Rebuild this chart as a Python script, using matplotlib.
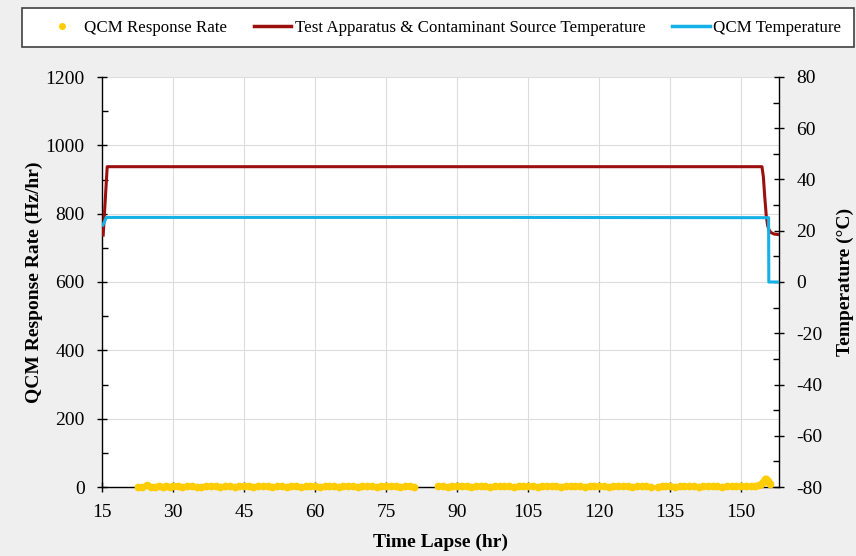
import matplotlib
matplotlib.use("Agg")
import matplotlib.pyplot as plt
from matplotlib.lines import Line2D
from matplotlib.patches import Rectangle
from matplotlib.ticker import MultipleLocator

plt.rcParams['font.family'] = ['Liberation Serif', 'DejaVu Serif']
plt.rcParams['axes.unicode_minus'] = False

# ---------------- data ----------------
rate_time = [
    22.6, 23.5, 24.4, 25.4, 26.3, 27.1, 27.9, 28.6, 29.3, 30.0,
    31, 32, 33, 34, 35, 36, 37, 38, 39, 40,
    41, 42, 43, 44, 45, 46, 47, 48, 49, 50,
    51, 52, 53, 54, 55, 56, 57, 58, 59, 60,
    61, 62, 63, 64, 65, 66, 67, 68, 69, 70,
    71, 72, 73, 74, 75, 76, 77, 78, 79, 80,
    81,
    86, 87, 88, 89, 90, 91, 92, 93, 94, 95,
    96, 97, 98, 99, 100, 101, 102, 103, 104, 105,
    106, 107, 108, 109, 110, 111, 112, 113, 114, 115,
    116, 117, 118, 119, 120, 121, 122, 123, 124, 125,
    126, 127, 128, 129, 130, 131,
    132.4, 133.2,
    134, 135, 136, 137, 138, 139, 140, 141, 142, 143,
    144, 145, 146, 147, 148, 149, 150, 151, 152, 153,
    153.7, 154.2, 154.6, 155.0, 155.3, 155.7, 156.0,
]
rate_value = [
    0, 1, 5, 1, 1, 2, 1, 2, 1, 2,
    2, 1, 3, 2, 1, 0, 2, 3, 2, 1,
    2, 3, 1, 2, 4, 2, 1, 3, 2, 2,
    1, 3, 2, 1, 2, 3, 1, 2, 2, 3,
    1, 2, 3, 2, 1, 2, 2, 3, 1, 2,
    3, 2, 1, 2, 2, 3, 2, 1, 2, 3,
    1,
    2, 3, 1, 2, 2, 3, 2, 1, 3, 2,
    2, 1, 3, 2, 2, 3, 1, 2, 2, 3,
    2, 1, 2, 3, 2, 2, 1, 3, 2, 2,
    3, 1, 2, 2, 3, 2, 1, 2, 3, 2,
    2, 1, 3, 2, 2, 1,
    1, 2,
    2, 3, 1, 2, 2, 3, 2, 1, 2, 3,
    2, 2, 1, 3, 2, 2, 3, 2, 2, 3,
    5, 9, 15, 22, 24, 19, 9,
]

source_time = [15.25, 16.1, 30, 60, 90, 120, 150, 154.4, 154.7, 155.0,
               155.3, 155.6, 155.9, 156.3, 157.0, 158.0]
source_temp = [18.3, 45.0, 45.0, 45.0, 45.0, 45.0, 45.0, 45.0, 41.0, 33.0,
               26.0, 22.0, 20.3, 19.3, 18.7, 18.5]

qcm_time = [15.2, 15.9, 60, 100, 155.8, 155.85, 158.0]
qcm_temp = [22.2, 25.2, 25.2, 25.2, 25.1, 0.0, 0.0]

x_ticks = [15, 30, 45, 60, 75, 90, 105, 120, 135, 150]
left_ticks = [0, 200, 400, 600, 800, 1000, 1200]
right_ticks = [-80, -60, -40, -20, 0, 20, 40, 60, 80]

series_names = ["QCM Response Rate",
                "Test Apparatus & Contaminant Source Temperature",
                "QCM Temperature"]

# ---------------- style ----------------
c_rate = '#ffcc00'
c_src = '#9c0f0f'
c_qcm = '#14b1e7'
bg = '#efefef'
grid_c = '#dcdcdc'

fig = plt.figure(figsize=(8.56, 5.56), dpi=100, facecolor=bg)
ax = fig.add_axes([102/856, 1-487/556, (779-102)/856, (487-77)/556])
ax.set_facecolor('white')

ax.plot(rate_time, rate_value, linestyle='none', marker='o', markersize=5.6,
        color=c_rate, markeredgewidth=0, zorder=3, clip_on=False)
ax.set_xlim(15, 158)
ax.set_ylim(0, 1200)
ax.set_xticks(x_ticks)
ax.set_yticks(left_ticks)
ax.yaxis.set_minor_locator(MultipleLocator(100))
ax.grid(True, which='major', color=grid_c, linewidth=0.8, zorder=0)
ax.set_axisbelow(True)

ax2 = ax.twinx()
ax2.plot(source_time, source_temp, color=c_src, linewidth=2.2, zorder=4)
ax2.plot(qcm_time, qcm_temp, color=c_qcm, linewidth=2.2, zorder=5)
ax2.set_ylim(-80, 80)
ax2.set_yticks(right_ticks)
ax2.yaxis.set_minor_locator(MultipleLocator(10))

ax.spines['top'].set_visible(False)
ax.spines['right'].set_visible(False)
ax2.spines['top'].set_visible(False)
ax2.spines['bottom'].set_visible(False)
ax2.spines['left'].set_visible(False)
for a in (ax, ax2):
    for s in a.spines.values():
        s.set_color('black')
        s.set_linewidth(1.0)

ax.tick_params(axis='both', which='major', direction='inout', length=7,
               width=1, labelsize=14, colors='black')
ax.tick_params(axis='y', which='major', pad=9)
ax.tick_params(axis='y', which='minor', direction='in', length=4, width=1)
ax.tick_params(axis='x', which='major', pad=9)
ax2.tick_params(axis='y', which='major', direction='inout', length=7,
                width=1, labelsize=14, pad=9)
ax2.tick_params(axis='y', which='minor', direction='in', length=4, width=1)

ax.set_xlabel("Time Lapse (hr)", fontsize=14, fontweight='bold', labelpad=9)
ax.set_ylabel("QCM Response Rate (Hz/hr)", fontsize=14, fontweight='bold',
              labelpad=2)
ax2.set_ylabel("Temperature (°C)", fontsize=14, fontweight='bold', labelpad=10)

# legend
fig.patches.append(Rectangle((22/856, 1-47/556), (854-22)/856, 39/556,
                             transform=fig.transFigure, facecolor='white',
                             edgecolor='#404040', linewidth=1.2, zorder=0))
handles = [
    Line2D([], [], linestyle='none', marker='o', markersize=5,
           color=c_rate, markeredgewidth=0),
    Line2D([], [], color=c_src, linewidth=2.5),
    Line2D([], [], color=c_qcm, linewidth=2.5),
]
fig.legend(handles, series_names, loc='center',
           bbox_to_anchor=(442/856, 1-28/556), ncol=3, frameon=False,
           fontsize=12.2, handlelength=2.2, handletextpad=0.2,
           columnspacing=1.6, borderaxespad=0)

fig.savefig("out.png", dpi=100, facecolor=bg)
